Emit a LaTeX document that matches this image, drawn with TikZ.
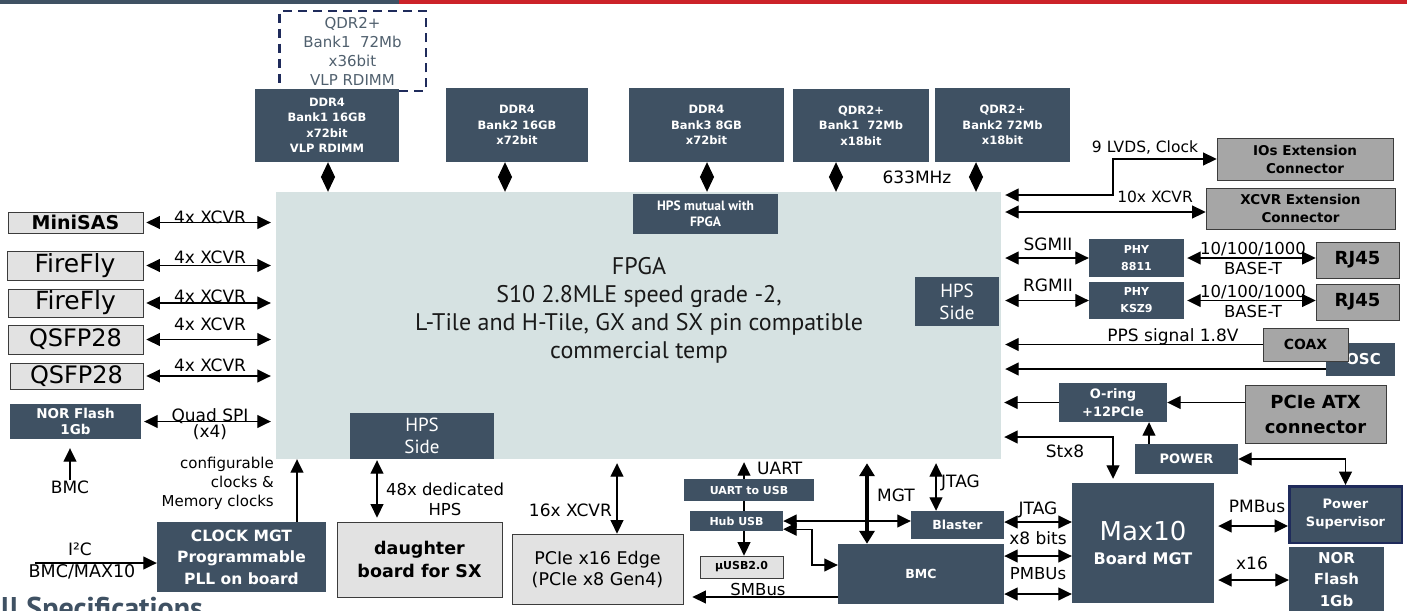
\documentclass[tikz,border=0pt]{standalone}
\usepackage{fontspec}
\setmainfont{DejaVu Sans}
\newfontfamily\ptsans{PT Sans}
\usetikzlibrary{arrows.meta}
\definecolor{boxblue}{RGB}{63,81,99}
\definecolor{fpgafill}{RGB}{214,226,226}
\definecolor{lightfill}{RGB}{226,226,226}
\definecolor{plugfill}{RGB}{166,166,166}
\definecolor{edgegray}{RGB}{60,60,60}
\definecolor{navy}{RGB}{31,43,91}
\definecolor{barred}{RGB}{204,34,41}
\definecolor{dimtext}{RGB}{80,96,110}
\newcommand{\fsz}[2]{\fontsize{#1}{#2}\selectfont}

\begin{document}
\begin{tikzpicture}[x=1pt,y=-1pt,>={Triangle[length=13.5pt,width=13pt]}]
\tikzstyle{darkbox}=[fill=boxblue,text=white,inner sep=0pt,align=center,font=\bfseries\fsz{11.5}{15.5}]
\tikzstyle{lightbox}=[fill=lightfill,draw=edgegray,line width=0.8pt,inner sep=0pt,align=center]
\tikzstyle{plugbox}=[fill=plugfill,draw=edgegray,line width=0.8pt,inner sep=0pt,align=center,font=\bfseries\fsz{13.5}{18}]
\tikzstyle{lbl}=[inner sep=0pt,align=center,font=\fsz{17}{20}]
\tikzstyle{bi}=[line width=1.2pt,<->]
\tikzstyle{uni}=[line width=1.2pt,->]
\tikzstyle{dia}=[line width=1pt,{Triangle[length=15pt,width=14pt]}-{Triangle[length=15pt,width=14pt]}]

\useasboundingbox (0,0) rectangle (1407,610);
\fill[white] (0,0) rectangle (1407,610);
\fill[boxblue] (0,0) rectangle (399,4);
\fill[barred] (399,0) rectangle (1407,4);

\node[draw=navy,line width=2.5pt,dash pattern=on 9pt off 6pt,minimum width=146.5,minimum height=79.5,inner sep=0pt,align=center,text=dimtext,font=\fsz{15}{19}] (qdrOpt) at (352.5,51) {QDR2+\\Bank1\ \ 72Mb\\x36bit\\VLP RDIMM};
\node[darkbox,minimum width=144,minimum height=73] (ddrA) at (327,125.5) {DDR4\\Bank1 16GB\\x72bit\\VLP RDIMM};
\node[darkbox,minimum width=142,minimum height=74] (ddrB) at (517,125) {DDR4\\Bank2 16GB\\x72bit};
\node[darkbox,minimum width=155,minimum height=74] (ddrC) at (706.5,125) {DDR4\\Bank3 8GB\\x72bit};
\node[darkbox,minimum width=136,minimum height=73] (qdrA) at (861,125.5) {QDR2+\\Bank1\ \ 72Mb\\x18bit};
\node[darkbox,minimum width=135,minimum height=74] (qdrB) at (1002.5,125) {QDR2+\\Bank2 72Mb\\x18bit};

\node[fill=fpgafill,minimum width=725,minimum height=267,inner sep=0pt] (fpga) at (638.5,325.5) {};
\node[inner sep=0pt,align=center,font=\ptsans\fsz{24}{28},text=black!90] (fpgaLbl) at (639,310.5) {FPGA\\S10 2.8MLE speed grade -2,\\L-Tile and H-Tile, GX and SX pin compatible\\commercial temp};
\node[darkbox,font=\ptsans\bfseries\fsz{13.5}{16},minimum width=145,minimum height=40] (hpsTop) at (705.5,214) {HPS mutual with\\FPGA};
\node[darkbox,font=\ptsans\fsz{19}{22},minimum width=84,minimum height=49] (hpsRight) at (957,301.5) {HPS\\Side};
\node[darkbox,font=\ptsans\fsz{19}{22},minimum width=144,minimum height=46] (hpsBottom) at (422,436) {HPS\\Side};

\coordinate (dA) at (328,0);
\coordinate (dB) at (505,0);
\coordinate (dC) at (707,0);
\coordinate (dD) at (836,0);
\coordinate (dE) at (976,0);
\draw[dia] (ddrA.south -| dA) -- (fpga.north -| dA);
\draw[dia] (ddrB.south -| dB) -- (fpga.north -| dB);
\draw[dia] (ddrC.south -| dC) -- (fpga.north -| dC);
\draw[dia] (qdrA.south -| dD) -- (fpga.north -| dD);
\draw[dia] (qdrB.south -| dE) -- (fpga.north -| dE);
\node[lbl] (lMhz) at (917,177) {633MHz};

\node[lightbox,font=\bfseries\fsz{19}{22},minimum width=135,minimum height=21] (miniSas) at (75.5,222.5) {MiniSAS};
\node[lightbox,font=\fsz{25}{28},minimum width=136,minimum height=29] (fireflyA) at (75,265.5) {FireFly};
\node[lightbox,font=\fsz{25}{28},minimum width=135,minimum height=28] (fireflyB) at (75.5,303) {FireFly};
\node[lightbox,font=\fsz{24}{28},minimum width=135,minimum height=29] (qsfpA) at (75.5,339.5) {QSFP28};
\node[lightbox,font=\fsz{24}{28},minimum width=133,minimum height=26] (qsfpB) at (76.5,376) {QSFP28};
\node[darkbox,font=\bfseries\fsz{13.5}{16.5},minimum width=131,minimum height=35] (norL) at (75.5,421.5) {NOR Flash\\1Gb};

\draw[bi,shorten <=3pt,shorten >=5pt] (miniSas.east) -- (miniSas.east -| fpga.west);
\draw[bi,shorten <=3pt,shorten >=5pt] (fireflyA.east) -- (fireflyA.east -| fpga.west);
\draw[bi,shorten <=3pt,shorten >=5pt] (fireflyB.east) -- (fireflyB.east -| fpga.west);
\draw[bi,shorten <=3pt,shorten >=5pt] (qsfpA.east) -- (qsfpA.east -| fpga.west);
\draw[bi,shorten <=3pt,shorten >=5pt] (qsfpB.east) -- (qsfpB.east -| fpga.west);
\draw[bi,shorten <=3pt,shorten >=5pt] (norL.east) -- (norL.east -| fpga.west);
\node[lbl] (lXcvrA) at (210,217) {4x XCVR};
\node[lbl] (lXcvrB) at (210,257) {4x XCVR};
\node[lbl] (lXcvrC) at (210,296) {4x XCVR};
\node[lbl] (lXcvrD) at (210,324) {4x XCVR};
\node[lbl] (lXcvrE) at (210,365) {4x XCVR};
\node[lbl] (lSpi) at (210,416) {Quad SPI};
\node[lbl] (lSpiW) at (210,432) {(x4)};

\node[lbl] (lBmcL) at (70,487) {BMC};
\draw[uni,shorten >=9pt] (lBmcL.north) -- (lBmcL.north |- norL.south);

\node[darkbox,font=\bfseries\fsz{15.5}{21.5},minimum width=169,minimum height=70] (clock) at (241.5,557) {CLOCK MGT\\Programmable\\PLL on board};
\coordinate (clkX) at (297,0);
\draw[uni] (clock.north -| clkX) -- (fpga.south -| clkX);
\node[lbl,align=right,anchor=east,font=\fsz{15}{19}] (lCfg) at (274,483) {configurable\\clocks \&\\Memory clocks};
\coordinate (i2c) at (35,563);
\draw[uni] (i2c) -- (clock.west |- i2c);
\node[lbl] (lI2c) at (80,549) {I²C};
\node[lbl,font=\fsz{17.5}{20}] (lBmcMax) at (82,572) {BMC/MAX10};

\node[lightbox,font=\bfseries\fsz{17.5}{23},minimum width=165,minimum height=75] (daughter) at (419.5,559.5) {daughter\\board for SX};
\coordinate (hpsX) at (377,0);
\draw[bi,shorten <=1pt,shorten >=4pt] (hpsBottom.south -| hpsX) -- (daughter.north -| hpsX);
\node[lbl,font=\fsz{16.5}{20}] (lDedic) at (445,499) {48x dedicated\\HPS};

\node[lightbox,font=\fsz{17.5}{21},minimum width=171,minimum height=70] (pcie) at (597.5,569) {PCIe x16 Edge\\(PCIe x8 Gen4)};
\coordinate (pcieX) at (617,0);
\draw[bi,shorten <=4pt] (fpga.south -| pcieX) -- (pcie.north -| pcieX);
\node[lbl,anchor=east] (lXcvrP) at (612,510) {16x XCVR};

\node[darkbox,font=\bfseries\fsz{11}{13},minimum width=130,minimum height=22] (uart) at (749,490) {UART to USB};
\node[darkbox,font=\bfseries\fsz{11}{13},minimum width=93,minimum height=20] (hub) at (736.5,521) {Hub USB};
\node[lightbox,font=\bfseries\fsz{11}{13},minimum width=83,minimum height=22] (musb) at (741.5,567) {µUSB2.0};
\coordinate (usbX) at (744,0);
\draw[uni,shorten >=3pt] (uart.north -| usbX) -- (fpga.south -| usbX);
\draw[line width=1.2pt] (uart.south -| usbX) -- (hub.north -| usbX);
\draw[uni] (hub.south -| usbX) -- (musb.north -| usbX);
\node[lbl,anchor=west] (lUart) at (757,468) {UART};

\node[darkbox,font=\bfseries\fsz{12.5}{15},minimum width=93,minimum height=28] (blaster) at (957.5,525) {Blaster};
\node[darkbox,font=\bfseries\fsz{12.5}{15},minimum width=166,minimum height=60] (bmc) at (921,574) {BMC};
\draw[bi] (hub.east) -- (blaster.west |- hub.east);
\coordinate (hubBend) at (812,565);
\draw[bi] ([yshift=2pt]hub.south east) -| (hubBend) -- (bmc.west |- hubBend);
\coordinate (smbY) at (0,597);
\draw[uni,shorten >=9pt] (bmc.west |- smbY) -- (pcie.east |- smbY);
\node[lbl,font=\fsz{16.5}{20}] (lSmb) at (758,589) {SMBus};

\coordinate (mgtX) at (867,0);
\draw[line width=3.5pt,{Triangle[length=13pt,width=15pt]}-{Triangle[length=13pt,width=15pt]},shorten <=4pt] (fpga.south -| mgtX) -- (bmc.north -| mgtX);
\node[lbl] (lMgt) at (896,495) {MGT};
\coordinate (jtagX) at (936,0);
\draw[bi,shorten <=4pt] (fpga.south -| jtagX) -- (blaster.north -| jtagX);
\node[lbl,anchor=west] (lJtagV) at (941,483) {JTAG};

\node[darkbox,font=\bfseries\fsz{16}{24.5},minimum width=142,minimum height=120] (maxTen) at (1143,543) {{\fsz{26}{24.5}\mdseries Max10}\\Board MGT};
\coordinate (jA) at (0,522);
\coordinate (jB) at (0,556);
\coordinate (jC) at (0,594);
\draw[bi] (blaster.east |- jA) -- (maxTen.west |- jA);
\draw[bi] (bmc.east |- jB) -- (maxTen.west |- jB);
\draw[bi] (bmc.east |- jC) -- (maxTen.west |- jC);
\node[lbl] (lJtagH) at (1038,510) {JTAG};
\node[lbl] (lBits) at (1038,538) {x8 bits};
\node[lbl,font=\fsz{16.5}{20}] (lPmbL) at (1038,574) {PMBUs};

\node[darkbox,draw=navy,line width=2.5pt,font=\bfseries\fsz{13}{18},minimum width=112.5,minimum height=56.5] (psup) at (1345.5,514.5) {Power\\Supervisor};
\node[darkbox,font=\bfseries\fsz{15}{21.5},minimum width=95,minimum height=65] (norR) at (1336.5,579.5) {NOR\\Flash\\1Gb};
\coordinate (pmY) at (0,526);
\coordinate (x16Y) at (0,580);
\draw[bi,shorten <=4pt] (maxTen.east |- pmY) -- (psup.west |- pmY);
\draw[bi,shorten <=4pt] (maxTen.east |- x16Y) -- (norR.west |- x16Y);
\node[lbl] (lPmbR) at (1257,506) {PMBus};
\node[lbl] (lX16) at (1252,563) {x16};

\node[darkbox,font=\bfseries\fsz{13}{18},minimum width=108,minimum height=39] (oring) at (1113,402.5) {O-ring\\+12PCIe};
\node[plugbox,font=\bfseries\fsz{18}{25},minimum width=141,minimum height=58] (atx) at (1315.5,414) {PCIe ATX\\connector};
\node[darkbox,font=\bfseries\fsz{13}{15},minimum width=103,minimum height=30] (power) at (1186.5,459) {POWER};
\draw[uni,shorten >=3pt] (oring.west) -- (oring.west -| fpga.east);
\draw[uni] (atx.west |- oring.east) -- (oring.east);
\coordinate (pwrX) at (1149,0);
\draw[uni] (power.north -| pwrX) -- (oring.south -| pwrX);
\draw[bi] (power.east) -| (psup.north);
\coordinate (stxBend) at (1113,437);
\draw[bi,shorten <=3pt,shorten >=4pt] (fpga.east |- stxBend) -- (stxBend) -- (maxTen.north -| stxBend);
\node[lbl] (lStx) at (1065,451) {Stx8};

\node[plugbox,minimum width=176,minimum height=42] (ioext) at (1305,159) {IOs Extension\\Connector};
\node[plugbox,minimum width=189,minimum height=41] (xcvrExt) at (1300.5,208.5) {XCVR Extension\\Connector};
\coordinate (lvdsBend) at (1113,195);
\draw[bi,shorten <=4pt] (fpga.east |- lvdsBend) -- (lvdsBend) |- (ioext.west);
\node[lbl,font=\fsz{15.5}{18}] (lLvds) at (1145,148) {9 LVDS, Clock};
\coordinate (xcvrY) at (0,212);
\draw[bi,shorten <=4pt] (fpga.east |- xcvrY) -- (xcvrExt.west |- xcvrY);
\node[lbl,font=\fsz{15.5}{18}] (lXcvrX) at (1155,197) {10x XCVR};

\node[darkbox,font=\bfseries\fsz{11}{17},minimum width=95,minimum height=38] (phyA) at (1136.5,258) {PHY\\8811};
\node[darkbox,font=\bfseries\fsz{11}{17},minimum width=95,minimum height=37] (phyB) at (1136.5,300.5) {PHY\\KSZ9};
\node[plugbox,font=\bfseries\fsz{18}{20},minimum width=83,minimum height=36] (rjA) at (1357.5,260) {RJ45};
\node[plugbox,font=\bfseries\fsz{18}{20},minimum width=83,minimum height=36] (rjB) at (1357.5,302) {RJ45};
\draw[bi,shorten <=4pt] (phyA.west -| fpga.east) -- (phyA.west);
\draw[bi,shorten <=4pt] (phyB.west -| fpga.east) -- (phyB.west);
\draw[bi,shorten <=3pt] (phyA.east) -- (rjA.west |- phyA.east);
\draw[bi,shorten <=3pt] (phyB.east) -- (rjB.west |- phyB.east);
\node[lbl] (lSgmii) at (1048,244) {SGMII};
\node[lbl] (lRgmii) at (1048,285) {RGMII};
\node[lbl,font=\fsz{16.5}{20}] (lSpdA) at (1253,249) {10/100/1000};
\node[lbl,font=\fsz{16.5}{20}] (lBaseA) at (1253,268) {BASE-T};
\node[lbl,font=\fsz{16.5}{20}] (lSpdB) at (1253,292) {10/100/1000};
\node[lbl,font=\fsz{16.5}{20}] (lBaseB) at (1253,311) {BASE-T};

\node[darkbox,font=\bfseries\fsz{15}{18},minimum width=69,minimum height=33] (osc) at (1360.5,359.5) {\hspace{6pt}OSC};
\node[plugbox,font=\bfseries\fsz{14}{18},minimum width=85,minimum height=33] (coax) at (1305.5,344.5) {COAX};
\coordinate (oscY) at (0,369);
\draw[uni,shorten >=4pt] (coax.west) -- (coax.west -| fpga.east);
\draw[uni,shorten >=4pt] (osc.west |- oscY) -- (fpga.east |- oscY);
\node[lbl] (lPps) at (1173,337) {PPS signal 1.8V};

\node[anchor=base west,inner sep=0pt,font=\ptsans\bfseries\fsz{30}{34},text=boxblue] (lSpec) at (1,618) {ll Specifications};
\end{tikzpicture}
\end{document}
